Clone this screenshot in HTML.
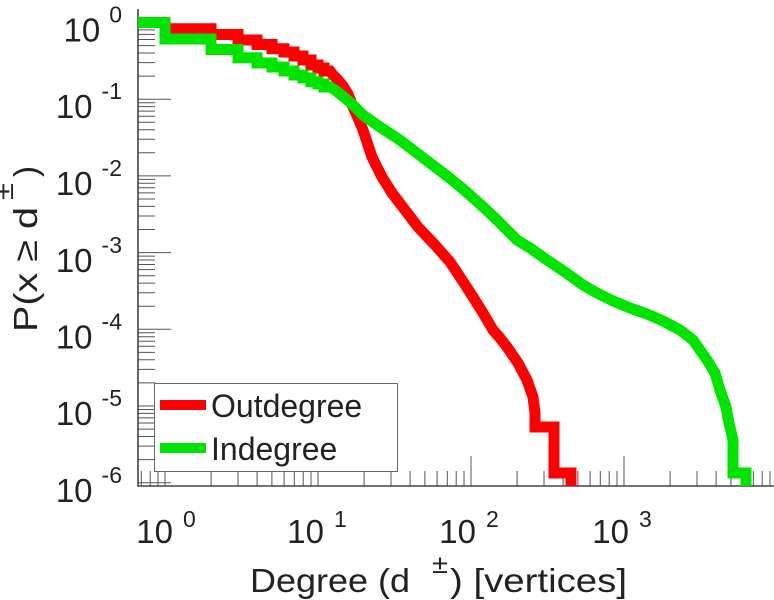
<!DOCTYPE html>
<html>
<head>
<meta charset="utf-8">
<style>
html,body{margin:0;padding:0;background:#fff;}
body{width:774px;height:600px;overflow:hidden;}
svg{display:block;}
text{font-family:"Liberation Sans",Arial,sans-serif;fill:#222;}
</style>
</head>
<body>
<svg width="774" height="600" viewBox="0 0 774 600" xmlns="http://www.w3.org/2000/svg">
<rect width="774" height="600" fill="#fff"/>

<!-- y minor ticks -->
<path stroke="#555" stroke-width="1" fill="none" d="
M138 76.1h17M138 62.6h17M138 53.0h17M138 45.6h17M138 39.5h17M138 34.4h17M138 29.9h17M138 26.0h17
M138 152.8h17M138 139.3h17M138 129.7h17M138 122.3h17M138 116.2h17M138 111.1h17M138 106.6h17M138 102.7h17
M138 229.5h17M138 216.0h17M138 206.4h17M138 199.0h17M138 192.9h17M138 187.8h17M138 183.3h17M138 179.4h17
M138 306.2h17M138 292.7h17M138 283.1h17M138 275.7h17M138 269.6h17M138 264.5h17M138 260.0h17M138 256.1h17
M138 382.9h17M138 369.4h17M138 359.8h17M138 352.4h17M138 346.3h17M138 341.2h17M138 336.7h17M138 332.8h17
M138 459.6h17M138 446.1h17M138 436.5h17M138 429.1h17M138 423.0h17M138 417.9h17M138 413.4h17M138 409.5h17
"/>
<!-- y major ticks -->
<path stroke="#555" stroke-width="1" fill="none" d="
M138 22.5h33M138 99.2h33M138 175.9h33M138 252.6h33M138 329.3h33M138 406.0h33M138 482.7h33"/>

<!-- x minor ticks -->
<path stroke="#555" stroke-width="1" fill="none" d="
M141.3 486v-15M150.2 486v-15M158.0 486v-15
M211.1 486v-15M238 486v-15M257.1 486v-15M271.9 486v-15M284.1 486v-15M294.3 486v-15M303.2 486v-15M311.0 486v-15
M364.1 486v-15M391 486v-15M410.1 486v-15M424.9 486v-15M437.1 486v-15M447.3 486v-15M456.2 486v-15M464.0 486v-15
M517.1 486v-15M544 486v-15M563.1 486v-15M577.9 486v-15M590.1 486v-15M600.3 486v-15M609.2 486v-15M617.0 486v-15
M670.1 486v-15M697 486v-15M716.1 486v-15M730.9 486v-15M743.1 486v-15M753.3 486v-15M762.2 486v-15M770.0 486v-15
"/>
<!-- x major ticks -->
<path stroke="#555" stroke-width="1" fill="none" d="M165 486v-30M318 486v-30M471 486v-30M624 486v-30"/>

<!-- axes -->
<path stroke="#444" stroke-width="1.6" fill="none" d="M138 9V486.5M137.5 486H774"/>

<!-- Outdegree (red) -->
<polyline fill="none" stroke="#ff0000" stroke-width="11" stroke-linejoin="miter" stroke-linecap="butt" points="
165,22.5 165,28.8 211,28.8 211,34.5 238,34.5 238,40 257,40 257,44.5 272,44.5 272,48.8 284,48.8 284,52 294,52 294,56 303,56 303,60 311,60 311,65 318,65 318,68 324,68 324,71 330,71 333,75 338,80 343,86 348,94 353,107 358,118 363,130 368,145 372,157 382,177 392,193 405,210 418,227 435,245 450,262 462,280 473,297 483,313 493,330 500,338 507,347 518,363 527,380 533,397 535,413 535,427 554,427 554,473 571,473 571,486"/>

<!-- Indegree (green) -->
<polyline fill="none" stroke="#00e400" stroke-width="11" stroke-linejoin="miter" stroke-linecap="butt" points="
138,22.5 165,22.5 165,39 211,39 211,49.5 238,49.5 238,57.8 257,57.8 257,63 272,63 272,67 284,67 284,71 294,71 294,75 303,75 303,78 311,78 311,81.7 318,81.7 318,84 324,84 324,87 330,87 335,90 340,94 345,98 353,105 363,115 380,127 397,138 413,150 430,163 447,176 463,189 480,204 497,220 517,240 530,248 550,262 565,272 583,285 597,293 613,301 630,308 647,314 663,321 680,330 693,340 700,350 707,360 715,373 720,390 726,407 729,423 733,440 733,473 746,473 746,486"/>

<!-- y tick labels -->
<g font-size="33">
<text x="122" y="41.5" text-anchor="end">10<tspan dx="9" dy="-19" font-size="23">0</tspan></text>
<text x="122" y="118" text-anchor="end">10<tspan dx="9" dy="-19" font-size="23">-1</tspan></text>
<text x="122" y="195" text-anchor="end">10<tspan dx="9" dy="-19" font-size="23">-2</tspan></text>
<text x="122" y="272" text-anchor="end">10<tspan dx="9" dy="-19" font-size="23">-3</tspan></text>
<text x="122" y="348.5" text-anchor="end">10<tspan dx="9" dy="-19" font-size="23">-4</tspan></text>
<text x="122" y="425" text-anchor="end">10<tspan dx="9" dy="-19" font-size="23">-5</tspan></text>
<text x="122" y="502" text-anchor="end">10<tspan dx="9" dy="-19" font-size="23">-6</tspan></text>
</g>

<!-- x tick labels -->
<g font-size="33">
<text x="166" y="543" text-anchor="middle">10<tspan dx="10" dy="-16" font-size="23">0</tspan></text>
<text x="317" y="543" text-anchor="middle">10<tspan dx="10" dy="-16" font-size="23">1</tspan></text>
<text x="469" y="543" text-anchor="middle">10<tspan dx="10" dy="-16" font-size="23">2</tspan></text>
<text x="622" y="543" text-anchor="middle">10<tspan dx="10" dy="-16" font-size="23">3</tspan></text>
</g>

<!-- x axis label -->
<text x="250" y="592" font-size="33" textLength="160" lengthAdjust="spacingAndGlyphs">Degree (d</text>
<text x="432" y="573" font-size="26" textLength="16" lengthAdjust="spacingAndGlyphs">±</text>
<text x="450" y="592" font-size="33" textLength="177" lengthAdjust="spacingAndGlyphs">) [vertices]</text>

<!-- y axis label -->
<g transform="translate(37,332) rotate(-90)">
<text x="0" y="0" font-size="33" textLength="125" lengthAdjust="spacingAndGlyphs">P(x ≥ d</text>
<text x="132" y="-24" font-size="26" textLength="17" lengthAdjust="spacingAndGlyphs">±</text>
<text x="155" y="0" font-size="33">)</text>
</g>

<!-- legend -->
<rect x="154.5" y="383.5" width="243" height="88" fill="#fff" stroke="#666" stroke-width="1"/>
<line x1="160" y1="405" x2="206" y2="405" stroke="#ff0000" stroke-width="10"/>
<line x1="160" y1="448" x2="206" y2="448" stroke="#00e400" stroke-width="10"/>
<text x="211" y="417" font-size="32">Outdegree</text>
<text x="211" y="460" font-size="32">Indegree</text>
</svg>
</body>
</html>
